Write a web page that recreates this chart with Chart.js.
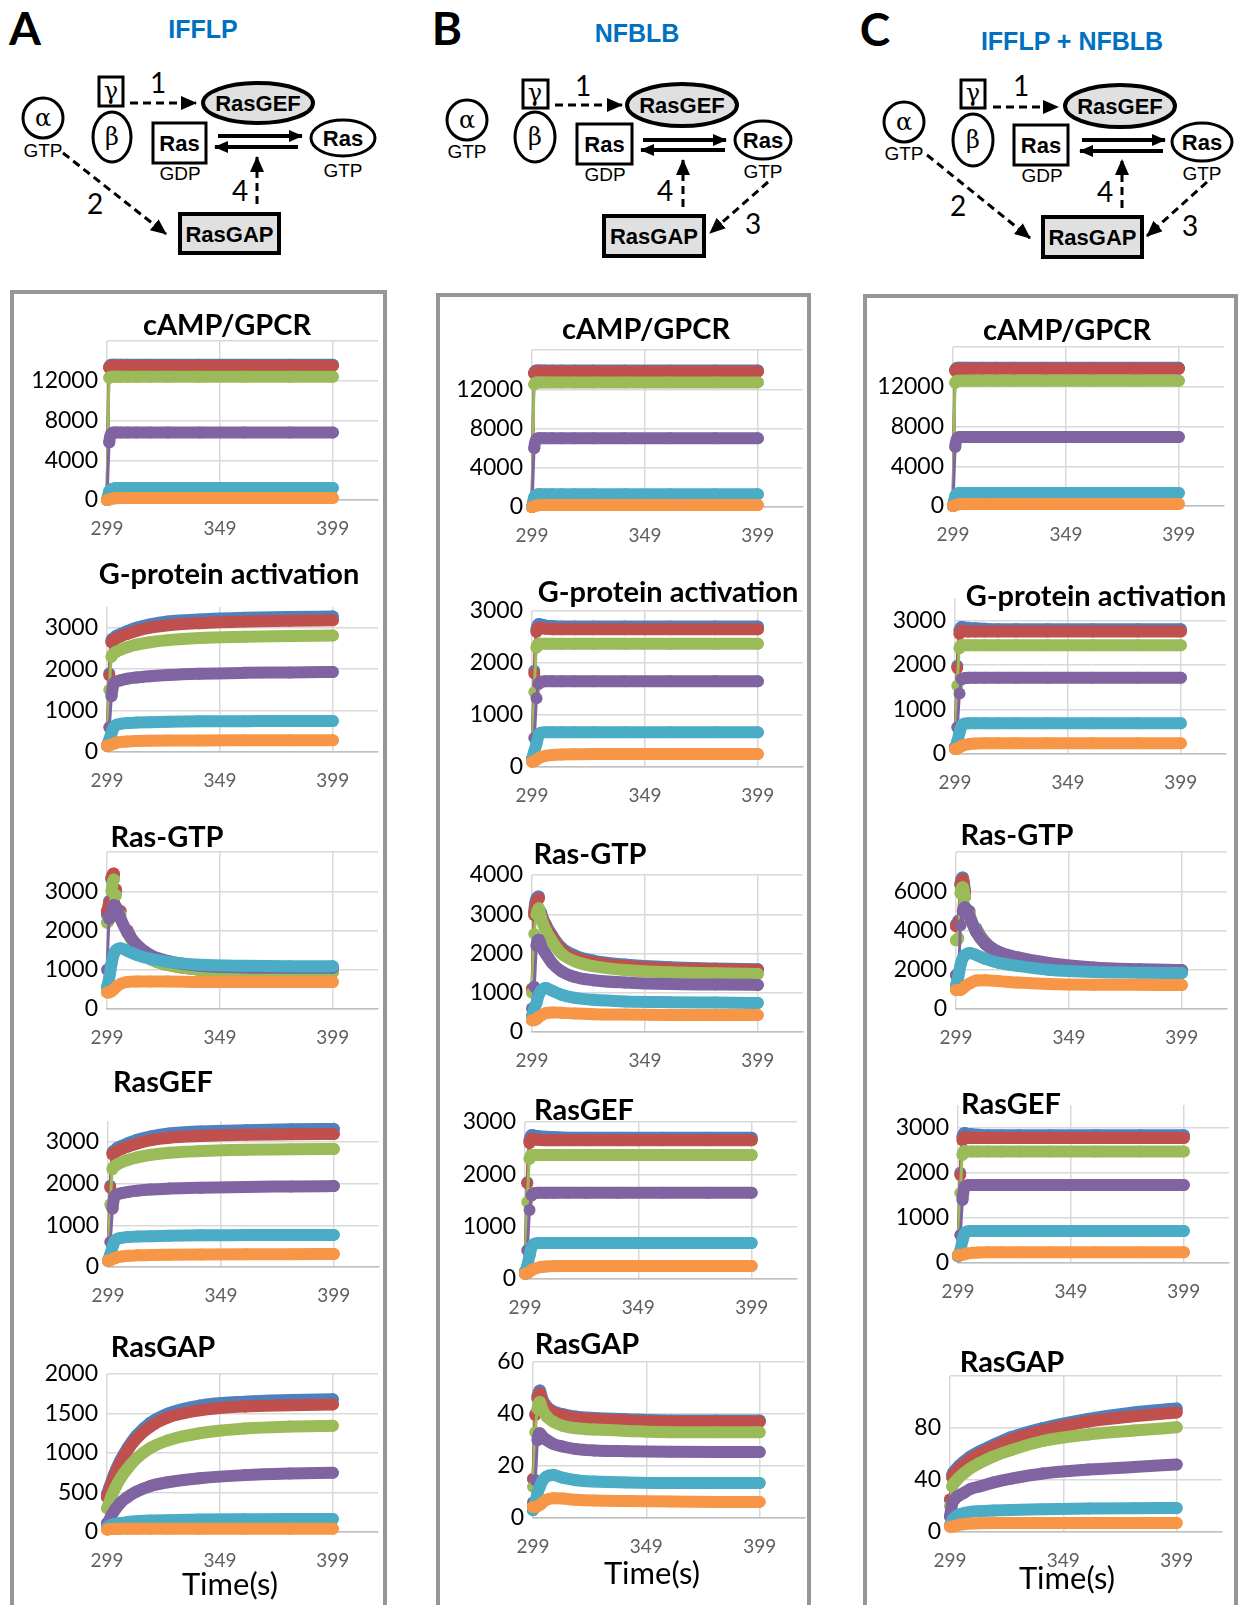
<!DOCTYPE html>
<html>
<head>
<meta charset="utf-8">
<script src="https://cdn.jsdelivr.net/npm/chart.js@4.4.1/dist/chart.umd.min.js"></script>
<style>
  html, body { margin: 0; padding: 0; background: #fff; }
  body { position: relative; width: 1241px; height: 1605px; overflow: hidden; font-family: Lato, sans-serif; }
  .panel { position: absolute; border: 4px solid #969696; border-bottom: none; box-sizing: border-box; }
  .ctitle { position: absolute; transform: translate(-50%, -50%); font: bold 29px Lato, sans-serif; color: #000; white-space: nowrap; }
  .xlabel { position: absolute; transform: translate(-50%, -50%); font: 31px Lato, sans-serif; color: #000; white-space: nowrap; }
  canvas { position: absolute; }
  svg { position: absolute; left: 0; top: 0; }
  svg text { font-family: "Liberation Sans", Arial, sans-serif; }
  svg .lbl { font: bold 46px Lato, sans-serif; }
  svg .net { font-weight: bold; font-size: 25px; fill: #0070c0; }
  svg .node { font-weight: bold; font-size: 22px; }
  svg .sub { font-size: 19px; }
  svg .greek { font-family: "DejaVu Serif", serif; font-size: 24px; }
  svg .num { font-family: Lato, sans-serif; font-size: 28px; }
</style>
</head>
<body>

<div class="panel" style="left:10px;top:290px;width:377px;height:1330px"></div>
<div class="panel" style="left:436px;top:293px;width:375px;height:1330px"></div>
<div class="panel" style="left:863px;top:294px;width:375px;height:1330px"></div>

<svg width="1241" height="290" viewBox="0 0 1241 290">
  <defs>
    <marker id="solid" markerUnits="userSpaceOnUse" markerWidth="14" markerHeight="12" refX="13" refY="6" orient="auto">
      <path d="M0,0 L14,6 L0,12 z" fill="#000"/>
    </marker>
    <marker id="dash" markerUnits="userSpaceOnUse" markerWidth="16" markerHeight="14" refX="15" refY="7" orient="auto">
      <path d="M0,0 L16,7 L0,14 z" fill="#000"/>
    </marker>
  </defs>
  <g stroke="#000" fill="none" stroke-width="3">
    <!-- A -->
    <circle cx="43" cy="118" r="20"/>
    <rect x="99" y="77" width="24" height="29"/>
    <ellipse cx="112" cy="137" rx="19" ry="25"/>
    <ellipse cx="258" cy="103" rx="55" ry="20" fill="#e0e0e0" stroke-width="4"/>
    <rect x="153" y="123" width="53" height="40"/>
    <ellipse cx="343" cy="138" rx="32" ry="18"/>
    <rect x="180" y="214" width="99" height="39" fill="#e0e0e0" stroke-width="4"/>
    <line x1="218" y1="136" x2="302" y2="136" stroke-width="4" marker-end="url(#solid)"/>
    <line x1="298" y1="147" x2="215" y2="147" stroke-width="4" marker-end="url(#solid)"/>
    <line x1="130" y1="103" x2="196" y2="103" stroke-dasharray="8,5" marker-end="url(#dash)"/>
    <line x1="63" y1="153" x2="166" y2="234" stroke-dasharray="8,5" marker-end="url(#dash)"/>
    <line x1="257" y1="204" x2="257" y2="157" stroke-dasharray="8,5" marker-end="url(#dash)"/>
    <!-- B -->
    <circle cx="467" cy="120" r="20"/>
    <rect x="523" y="80" width="25" height="28"/>
    <ellipse cx="535" cy="137" rx="20" ry="25"/>
    <ellipse cx="682" cy="105" rx="55" ry="21" fill="#e0e0e0" stroke-width="4"/>
    <rect x="577" y="124" width="55" height="40"/>
    <ellipse cx="763" cy="140" rx="28" ry="19"/>
    <rect x="604" y="216" width="100" height="40" fill="#e0e0e0" stroke-width="4"/>
    <line x1="643" y1="140" x2="726" y2="140" stroke-width="4" marker-end="url(#solid)"/>
    <line x1="725" y1="150" x2="641" y2="150" stroke-width="4" marker-end="url(#solid)"/>
    <line x1="555" y1="105" x2="622" y2="105" stroke-dasharray="8,5" marker-end="url(#dash)"/>
    <line x1="768" y1="182" x2="710" y2="233" stroke-dasharray="8,5" marker-end="url(#dash)"/>
    <line x1="683" y1="207" x2="683" y2="160" stroke-dasharray="8,5" marker-end="url(#dash)"/>
    <!-- C -->
    <circle cx="904" cy="122" r="20"/>
    <rect x="961" y="80" width="24" height="28"/>
    <ellipse cx="973" cy="140" rx="20" ry="26"/>
    <ellipse cx="1120" cy="106" rx="55" ry="21" fill="#e0e0e0" stroke-width="4"/>
    <rect x="1014" y="125" width="54" height="40"/>
    <ellipse cx="1202" cy="142" rx="30" ry="19"/>
    <rect x="1043" y="217" width="99" height="40" fill="#e0e0e0" stroke-width="4"/>
    <line x1="1082" y1="140" x2="1165" y2="140" stroke-width="4" marker-end="url(#solid)"/>
    <line x1="1163" y1="151" x2="1080" y2="151" stroke-width="4" marker-end="url(#solid)"/>
    <line x1="993" y1="107" x2="1058" y2="107" stroke-dasharray="8,5" marker-end="url(#dash)"/>
    <line x1="927" y1="155" x2="1030" y2="238" stroke-dasharray="8,5" marker-end="url(#dash)"/>
    <line x1="1207" y1="182" x2="1147" y2="236" stroke-dasharray="8,5" marker-end="url(#dash)"/>
    <line x1="1122" y1="208" x2="1122" y2="160" stroke-dasharray="8,5" marker-end="url(#dash)"/>
  </g>
  <g fill="#000" text-anchor="middle">
    <text class="lbl" x="25" y="45">A</text>
    <text class="lbl" x="447" y="45">B</text>
    <text class="lbl" x="875" y="46">C</text>
    <text class="net" x="203" y="38">IFFLP</text>
    <text class="net" x="637" y="42">NFBLB</text>
    <text class="net" x="1072" y="50">IFFLP + NFBLB</text>

    <text class="greek" x="43" y="126">α</text>
    <text class="sub" x="43" y="157">GTP</text>
    <text class="greek" x="111" y="99" font-size="20">γ</text>
    <text class="greek" x="112" y="145">β</text>
    <text class="node" x="258" y="111">RasGEF</text>
    <text class="node" x="179.5" y="151">Ras</text>
    <text class="sub" x="180" y="180">GDP</text>
    <text class="node" x="343" y="146">Ras</text>
    <text class="sub" x="343" y="177">GTP</text>
    <text class="node" x="229.5" y="242">RasGAP</text>
    <text class="num" x="158" y="93">1</text>
    <text class="num" x="95" y="214">2</text>
    <text class="num" x="240" y="201">4</text>

    <text class="greek" x="467" y="128">α</text>
    <text class="sub" x="467" y="158">GTP</text>
    <text class="greek" x="535" y="101" font-size="20">γ</text>
    <text class="greek" x="535" y="145">β</text>
    <text class="node" x="682" y="113">RasGEF</text>
    <text class="node" x="604.5" y="152">Ras</text>
    <text class="sub" x="605" y="181">GDP</text>
    <text class="node" x="763" y="148">Ras</text>
    <text class="sub" x="763" y="178">GTP</text>
    <text class="node" x="654" y="244">RasGAP</text>
    <text class="num" x="583" y="96">1</text>
    <text class="num" x="665" y="201">4</text>
    <text class="num" x="753" y="234">3</text>

    <text class="greek" x="904" y="130">α</text>
    <text class="sub" x="904" y="160">GTP</text>
    <text class="greek" x="973" y="101" font-size="20">γ</text>
    <text class="greek" x="973" y="148">β</text>
    <text class="node" x="1120" y="114">RasGEF</text>
    <text class="node" x="1041" y="153">Ras</text>
    <text class="sub" x="1042" y="182">GDP</text>
    <text class="node" x="1202" y="150">Ras</text>
    <text class="sub" x="1202" y="180">GTP</text>
    <text class="node" x="1092.5" y="245">RasGAP</text>
    <text class="num" x="1021" y="96">1</text>
    <text class="num" x="958" y="216">2</text>
    <text class="num" x="1105" y="202">4</text>
    <text class="num" x="1190" y="236">3</text>
  </g>
</svg>

<script>
// time points (s) and x tick labels
const times = [299, 300, 301, 302, 303, 305, 308, 312, 318, 326, 340, 360, 380, 399];
const xTicks = [299, 349, 399];
const seriesNames = ['blue', 'red', 'green', 'purple', 'cyan', 'orange'];
const seriesColors = ['#4f81bd', '#c0504d', '#9bbb59', '#8064a2', '#4bacc6', '#f79646'];

// A: IFFLP  (rows: blue, red, green, purple, cyan, orange)
const aCamp = [
  [0, 13400, 13600, 13600, 13600, 13600, 13600, 13600, 13600, 13600, 13600, 13600, 13600, 13600],
  [0, 13300, 13500, 13500, 13500, 13500, 13500, 13500, 13500, 13500, 13500, 13500, 13500, 13500],
  [0, 12300, 12400, 12400, 12400, 12400, 12400, 12400, 12400, 12400, 12400, 12400, 12400, 12400],
  [0, 5800, 6700, 6800, 6800, 6800, 6800, 6800, 6800, 6800, 6800, 6800, 6800, 6800],
  [0, 900, 1100, 1150, 1200, 1200, 1200, 1200, 1200, 1200, 1200, 1200, 1200, 1200],
  [0, 60, 120, 160, 180, 200, 200, 200, 200, 200, 200, 200, 200, 200]
];
const aGprot = [
  [150, 1900, 2700, 2750, 2800, 2850, 2920, 3000, 3080, 3150, 3200, 3240, 3260, 3270],
  [150, 1850, 2650, 2700, 2740, 2790, 2850, 2920, 3000, 3060, 3110, 3150, 3170, 3180],
  [150, 1500, 2300, 2380, 2420, 2470, 2530, 2590, 2650, 2700, 2750, 2780, 2800, 2810],
  [150, 600, 1350, 1650, 1700, 1730, 1770, 1800, 1830, 1860, 1890, 1910, 1920, 1930],
  [150, 300, 450, 600, 650, 680, 700, 710, 720, 730, 740, 745, 750, 750],
  [150, 160, 180, 200, 220, 240, 255, 265, 270, 275, 280, 283, 285, 285]
];
const aRasGtp = [
  [2400, 2750, 3300, 3400, 3000, 2500, 2000, 1600, 1300, 1150, 1020, 970, 960, 960],
  [2500, 2700, 3350, 3450, 3050, 2500, 2000, 1600, 1280, 1120, 1000, 950, 940, 940],
  [2200, 2300, 3000, 3300, 2900, 2400, 1950, 1580, 1280, 1120, 1000, 960, 950, 950],
  [1000, 2300, 2400, 2650, 2600, 2300, 1950, 1650, 1380, 1220, 1100, 1060, 1050, 1050],
  [550, 800, 1150, 1400, 1500, 1550, 1480, 1380, 1280, 1200, 1130, 1100, 1090, 1090],
  [420, 420, 450, 500, 560, 640, 690, 700, 700, 700, 690, 690, 690, 690]
];
const aRasGef = [
  [150, 1950, 2750, 2800, 2850, 2900, 2970, 3050, 3130, 3200, 3250, 3280, 3300, 3310],
  [150, 1900, 2700, 2740, 2780, 2830, 2890, 2960, 3040, 3100, 3140, 3170, 3180, 3190],
  [150, 1500, 2350, 2420, 2460, 2510, 2570, 2630, 2690, 2740, 2780, 2810, 2820, 2830],
  [150, 600, 1400, 1700, 1740, 1770, 1800, 1830, 1860, 1880, 1900, 1920, 1930, 1940],
  [150, 300, 480, 620, 670, 700, 720, 730, 740, 750, 760, 765, 770, 770],
  [150, 160, 190, 210, 230, 250, 270, 280, 290, 295, 300, 305, 308, 310]
];
const aRasGap = [
  [480, 560, 640, 720, 790, 910, 1060, 1220, 1380, 1500, 1600, 1650, 1670, 1680],
  [440, 520, 610, 690, 760, 880, 1030, 1180, 1330, 1450, 1540, 1590, 1605, 1615],
  [300, 370, 450, 520, 580, 680, 800, 930, 1060, 1160, 1250, 1310, 1335, 1345],
  [110, 150, 210, 260, 300, 370, 440, 510, 580, 630, 680, 720, 740, 750],
  [60, 80, 90, 100, 105, 115, 125, 135, 145, 150, 158, 162, 165, 165],
  [30, 35, 37, 38, 39, 40, 40, 40, 40, 40, 40, 40, 40, 40]
];

// B: NFBLB
const bCamp = [
  [0, 13700, 13900, 13900, 13900, 13900, 13900, 13900, 13900, 13900, 13900, 13900, 13900, 13900],
  [0, 13600, 13800, 13800, 13800, 13800, 13800, 13800, 13800, 13800, 13800, 13800, 13800, 13800],
  [0, 12500, 12700, 12700, 12700, 12700, 12700, 12700, 12700, 12700, 12700, 12700, 12700, 12700],
  [0, 6000, 6900, 7000, 7000, 7000, 7000, 7000, 7000, 7000, 7000, 7000, 7000, 7000],
  [0, 1000, 1250, 1300, 1300, 1300, 1300, 1300, 1300, 1300, 1300, 1300, 1300, 1300],
  [0, 80, 150, 180, 200, 200, 200, 200, 200, 200, 200, 200, 200, 200]
];
const bGprot = [
  [150, 1850, 2650, 2750, 2740, 2720, 2710, 2700, 2700, 2700, 2700, 2700, 2700, 2700],
  [150, 1800, 2600, 2680, 2670, 2660, 2650, 2650, 2650, 2650, 2650, 2650, 2650, 2650],
  [150, 1440, 2300, 2370, 2370, 2370, 2370, 2370, 2370, 2370, 2370, 2370, 2370, 2370],
  [150, 560, 1320, 1600, 1640, 1650, 1650, 1650, 1650, 1650, 1650, 1650, 1650, 1650],
  [150, 300, 450, 620, 660, 670, 670, 670, 670, 670, 670, 670, 670, 670],
  [100, 110, 140, 170, 190, 215, 230, 240, 245, 250, 250, 250, 250, 250]
];
const bRasGtp = [
  [1100, 3050, 3400, 3450, 3050, 2750, 2450, 2150, 1950, 1820, 1720, 1650, 1620, 1600],
  [1100, 2980, 3300, 3400, 3000, 2700, 2400, 2100, 1900, 1780, 1680, 1620, 1600, 1580],
  [1000, 2500, 3000, 3150, 2900, 2600, 2300, 2000, 1800, 1680, 1580, 1520, 1500, 1480],
  [600, 1150, 2200, 2350, 2200, 2000, 1750, 1550, 1400, 1320, 1260, 1220, 1210, 1200],
  [400, 600, 740, 950, 1050, 1120, 1050, 950, 870, 820, 780, 760, 750, 740],
  [300, 300, 330, 380, 420, 480, 500, 490, 470, 455, 445, 435, 430, 430]
];
const bRasGef = [
  [150, 1850, 2650, 2750, 2740, 2730, 2720, 2710, 2700, 2700, 2700, 2700, 2700, 2700],
  [150, 1830, 2600, 2680, 2670, 2660, 2650, 2650, 2650, 2650, 2650, 2650, 2650, 2650],
  [150, 1470, 2300, 2370, 2370, 2370, 2370, 2370, 2370, 2370, 2370, 2370, 2370, 2370],
  [100, 550, 1320, 1600, 1640, 1650, 1650, 1650, 1650, 1650, 1650, 1650, 1650, 1650],
  [100, 250, 450, 620, 670, 690, 690, 690, 690, 690, 690, 690, 690, 690],
  [100, 110, 140, 170, 190, 220, 240, 250, 250, 250, 250, 250, 250, 250]
];
const bRasGap = [
  [15, 40, 47, 49, 46, 43, 41, 40, 39, 38.5, 38, 37.5, 37.5, 37.5],
  [15, 39.6, 46, 48, 45, 42.5, 40.5, 39.5, 38.5, 38, 37.5, 37, 37, 37],
  [12, 33, 42, 44.6, 42, 39, 37, 35.5, 34.5, 34, 33.5, 33, 33, 33],
  [6, 14.6, 30, 32.6, 31.5, 30, 28.5, 27.5, 26.5, 26, 25.7, 25.5, 25.4, 25.4],
  [3, 6, 9.6, 12, 14, 16, 16.5, 15.5, 14.5, 14, 13.7, 13.5, 13.5, 13.5],
  [4.2, 4.2, 4.5, 5, 5.8, 7, 7.6, 7.5, 7, 6.7, 6.5, 6.3, 6.2, 6.2]
];

// C: IFFLP + NFBLB
const cCamp = [
  [0, 13700, 13900, 13900, 13900, 13900, 13900, 13900, 13900, 13900, 13900, 13900, 13900, 13900],
  [0, 13600, 13800, 13800, 13800, 13800, 13800, 13800, 13800, 13800, 13800, 13800, 13800, 13800],
  [0, 12400, 12600, 12600, 12600, 12600, 12600, 12600, 12600, 12600, 12600, 12600, 12600, 12600],
  [0, 5950, 6850, 6950, 6950, 6950, 6950, 6950, 6950, 6950, 6950, 6950, 6950, 6950],
  [0, 1000, 1250, 1300, 1300, 1300, 1300, 1300, 1300, 1300, 1300, 1300, 1300, 1300],
  [0, 80, 150, 180, 200, 200, 200, 200, 200, 200, 200, 200, 200, 200]
];
const cGprot = [
  [150, 1980, 2780, 2850, 2840, 2830, 2820, 2810, 2800, 2800, 2800, 2800, 2800, 2800],
  [150, 1930, 2700, 2770, 2760, 2750, 2750, 2750, 2750, 2750, 2750, 2750, 2750, 2750],
  [150, 1530, 2380, 2440, 2440, 2440, 2440, 2440, 2440, 2440, 2440, 2440, 2440, 2440],
  [150, 600, 1360, 1680, 1700, 1710, 1710, 1710, 1710, 1710, 1710, 1710, 1710, 1710],
  [120, 280, 480, 640, 680, 690, 690, 690, 690, 690, 690, 690, 690, 690],
  [110, 120, 150, 180, 200, 220, 235, 240, 240, 240, 240, 240, 240, 240]
];
const cRasGtp = [
  [4300, 4500, 6400, 6700, 6000, 5000, 4100, 3400, 2900, 2550, 2250, 2050, 2000, 1980],
  [4220, 4400, 6300, 6600, 5900, 4900, 4000, 3350, 2850, 2500, 2200, 2020, 1970, 1950],
  [3500, 3600, 5900, 6200, 5700, 4800, 3950, 3300, 2800, 2480, 2180, 2020, 1970, 1950],
  [1730, 1800, 4270, 5000, 5190, 4700, 3900, 3300, 2900, 2640, 2350, 2120, 2030, 1980],
  [1200, 1630, 2240, 2600, 2750, 2850, 2750, 2550, 2350, 2200, 2000, 1880, 1850, 1830],
  [970, 970, 970, 1050, 1150, 1300, 1450, 1470, 1420, 1350, 1280, 1240, 1230, 1220]
];
const cRasGef = [
  [170, 2000, 2800, 2880, 2860, 2850, 2840, 2830, 2830, 2830, 2830, 2830, 2830, 2830],
  [170, 1950, 2720, 2790, 2780, 2770, 2770, 2770, 2770, 2770, 2770, 2770, 2770, 2770],
  [170, 1550, 2400, 2480, 2470, 2470, 2470, 2470, 2470, 2470, 2470, 2470, 2470, 2470],
  [150, 620, 1400, 1700, 1720, 1730, 1730, 1730, 1730, 1730, 1730, 1730, 1730, 1730],
  [150, 280, 500, 660, 700, 710, 710, 710, 710, 710, 710, 710, 710, 710],
  [170, 170, 180, 200, 210, 225, 235, 240, 240, 240, 240, 240, 240, 240]
];
const cRasGap = [
  [25, 44, 47, 49, 51, 54, 58, 62, 67, 73, 80, 87, 92, 95],
  [25, 42, 45, 47, 49, 52, 56, 60, 65, 71, 78, 85, 89, 92],
  [20, 35, 38, 40, 42, 45, 49, 53, 58, 63, 70, 75, 78, 80.5],
  [12, 22, 25, 27, 28, 30, 33, 35, 38, 41, 45, 48, 50, 52],
  [5, 9, 11, 12.5, 13.5, 14.5, 15.5, 16, 16.5, 17, 17.5, 18, 18.3, 18.5],
  [4, 4, 4.5, 5, 5.5, 6, 6.5, 6.8, 7, 7, 7, 7, 7, 7]
];

// layout: plot rectangle [left, top, right, bottom] in page pixels, y range
const panels = [
  { data: aCamp,   plot: [107, 341, 380, 500],   max: 16000, step: 4000, hideTop: true, title: 'cAMP/GPCR', tx: 227, ty: 323 },
  { data: aGprot,  plot: [107, 607, 380, 752],   max: 3500,  step: 1000, title: 'G-protein activation', tx: 229, ty: 572 },
  { data: aRasGtp, plot: [107, 852, 380, 1009],  max: 4000,  step: 1000, hideTop: true, title: 'Ras-GTP', tx: 167, ty: 835 },
  { data: aRasGef, plot: [108, 1121, 381, 1267], max: 3500,  step: 1000, title: 'RasGEF', tx: 163, ty: 1080 },
  { data: aRasGap, plot: [107, 1374, 380, 1532], max: 2000,  step: 500,  title: 'RasGAP', tx: 163, ty: 1345 },
  { data: bCamp,   plot: [532, 350, 805, 507],   max: 16000, step: 4000, hideTop: true, title: 'cAMP/GPCR', tx: 646, ty: 327 },
  { data: bGprot,  plot: [532, 611, 805, 767],   max: 3000,  step: 1000, title: 'G-protein activation', tx: 668, ty: 590 },
  { data: bRasGtp, plot: [532, 875, 805, 1032],  max: 4000,  step: 1000, title: 'Ras-GTP', tx: 590, ty: 852 },
  { data: bRasGef, plot: [525, 1122, 799, 1279], max: 3000,  step: 1000, title: 'RasGEF', tx: 584, ty: 1108 },
  { data: bRasGap, plot: [533, 1362, 807, 1518], max: 60,    step: 20,   title: 'RasGAP', tx: 587, ty: 1342 },
  { data: cCamp,   plot: [953, 347, 1226, 506],  max: 16000, step: 4000, hideTop: true, title: 'cAMP/GPCR', tx: 1067, ty: 328 },
  { data: cGprot,  plot: [955, 598, 1228, 754],  max: 3500,  step: 1000, title: 'G-protein activation', tx: 1096, ty: 594 },
  { data: cRasGtp, plot: [956, 852, 1229, 1009], max: 8000,  step: 2000, hideTop: true, title: 'Ras-GTP', tx: 1017, ty: 833 },
  { data: cRasGef, plot: [958, 1105, 1231, 1263], max: 3500, step: 1000, title: 'RasGEF', tx: 1011, ty: 1102 },
  { data: cRasGap, plot: [950, 1376, 1224, 1532], max: 120,  step: 40,   hideTop: true, title: 'RasGAP', tx: 1012, ty: 1360 }
];
const timeLabels = [[230, 1583], [652, 1572], [1067, 1577]];

// canvas margins around the plot area (must exceed Chart.js label overhang)
const PAD_L = 105, PAD_T = 30, AXIS_H = 45, PAD_R = 4;

// thin connector where the curve jumps between separate markers
function steep(c) {
  const dx = Math.abs(c.p1.x - c.p0.x), dy = Math.abs(c.p1.y - c.p0.y);
  return dy > 14 && dy > 2.5 * dx;
}

function addText(cls, text, x, y) {
  const d = document.createElement('div');
  d.className = cls;
  d.textContent = text;
  d.style.left = x + 'px';
  d.style.top = y + 'px';
  document.body.appendChild(d);
}

function makeChart(p) {
  const [l, t, r, b] = p.plot;
  const cv = document.createElement('canvas');
  cv.width = r - l + PAD_L + PAD_R;
  cv.height = b - t + PAD_T + AXIS_H;
  cv.style.left = (l - PAD_L) + 'px';
  cv.style.top = (t - PAD_T) + 'px';
  document.body.appendChild(cv);

  new Chart(cv, {
    type: 'line',
    data: {
      datasets: p.data.map((vals, i) => ({
        label: seriesNames[i],
        data: times.map((x, k) => ({ x, y: vals[k] })),
        borderColor: seriesColors[i],
        backgroundColor: seriesColors[i],
        pointBackgroundColor: seriesColors[i],
        borderWidth: 12,
        pointRadius: 6,
        pointHoverRadius: 6,
        pointBorderWidth: 0,
        borderCapStyle: 'round',
        borderJoinStyle: 'round',
        cubicInterpolationMode: 'monotone',
        order: seriesNames.length - i,
        clip: false,
        segment: { borderWidth: c => steep(c) ? 3 : 12 }
      }))
    },
    options: {
      responsive: false,
      animation: false,
      events: [],
      layout: { padding: { top: PAD_T, right: PAD_R, left: 0, bottom: 0 } },
      plugins: { legend: { display: false }, tooltip: { enabled: false } },
      scales: {
        x: {
          type: 'linear', min: 299, max: 419,
          afterBuildTicks: s => { s.ticks = xTicks.map(v => ({ value: v })); },
          afterFit: s => { s.height = AXIS_H; },
          grid: { color: '#d9d9d9', lineWidth: 1.5, drawTicks: false },
          border: { color: '#bfbfbf', width: 1.5 },
          ticks: { color: '#606060', font: { family: 'Lato', size: 19, lineHeight: 1 }, padding: 19, maxRotation: 0, autoSkip: false }
        },
        y: {
          min: 0, max: p.max,
          afterBuildTicks: s => {
            const ticks = [];
            for (let v = 0; v <= p.max + 1e-9; v += p.step) ticks.push({ value: v });
            s.ticks = ticks;
          },
          afterFit: s => { s.width = PAD_L; },
          grid: { color: '#d9d9d9', lineWidth: 1.5, drawTicks: false },
          border: { display: false },
          ticks: {
            color: '#000', font: { family: 'Lato', size: 23, lineHeight: 1 }, padding: 9, autoSkip: false,
            callback: v => (p.hideTop && v === p.max) ? '' : String(v)
          }
        }
      }
    }
  });
  addText('ctitle', p.title, p.tx, p.ty);
}

panels.forEach(makeChart);
timeLabels.forEach(([x, y]) => addText('xlabel', 'Time(s)', x, y));
</script>
</body>
</html>
